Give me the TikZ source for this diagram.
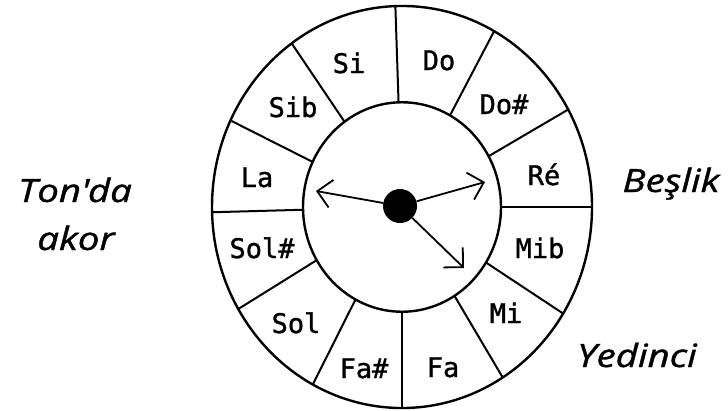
\documentclass[tikz,border=0pt]{standalone}
\usepackage{fontspec}
\newfontfamily\wheelfont[FakeBold=1.2]{DejaVu Sans Mono}
\newfontfamily\handfont[FakeStretch=1.2, FakeBold=1.2]{Open Sans}
\usetikzlibrary{arrows.meta}

\begin{document}
\begin{tikzpicture}[
    x=1pt, y=-1pt,
    ring/.style={line width=2.4pt},
    spoke/.style={line width=2pt},
    note/.style={font=\wheelfont\fontsize{27}{32}\selectfont, anchor=base, inner sep=0pt},
    side/.style={font=\handfont\itshape\fontsize{32}{38}\selectfont, anchor=base, inner sep=0pt},
    arr/.style={line width=1.8pt, -{Straight Barb[length=14pt, width=28pt, line width=1.8pt]}},
]
\useasboundingbox (0,0) rectangle (728,410);

% Wheel
\begin{scope}[shift={(402,207)}, yscale=-1.058]
  \draw[ring] (0,0) circle[radius=190];
  \draw[ring] (0,0) circle[radius=99];
  \foreach \a in {92,61,29,0,-32,-58,-90,-118,-149.5,181.5,154.5,125.5}
    \draw[spoke] (\a:99) -- (\a:190);
\end{scope}

% Hub and hands
\node[circle, fill=black, minimum size=34pt, inner sep=0pt] (hub) at (400,206) {};
\coordinate (toleft) at (316,191);
\coordinate (toright) at (485,182);
\coordinate (todown) at (464,268);
\draw[arr] (hub) -- (toleft);
\draw[arr] (hub) -- (toright);
\draw[arr] (hub) -- (todown);

% Notes
\node[note] (si) at (349,73) {Si};
\node[note] (do) at (439,70) {Do};
\node[note] (dos) at (504,114) {Do\#};
\node[note] (re) at (544,185) {Ré};
\node[note] (mib) at (540,258) {Mib};
\node[note] (mi) at (506,323) {Mi};
\node[note] (fa) at (443,377) {Fa};
\node[note] (fas) at (364,378) {Fa\#};
\node[note] (sol) at (296,333) {Sol};
\node[note] (sols) at (262,258) {Sol\#};
\node[note] (la) at (257,187) {La};
\node[note] (sib) at (293,117) {Sib};

% Side words
\node[side] (tonda) at (75,202) {Ton\textquotesingle da};
\node[side] (akor) at (76,250) {akor};
\node[side] (beslik) at (671,192) {Beşlik};
\node[side] (yedinci) at (637,367) {Yedinci};

\end{tikzpicture}
\end{document}
